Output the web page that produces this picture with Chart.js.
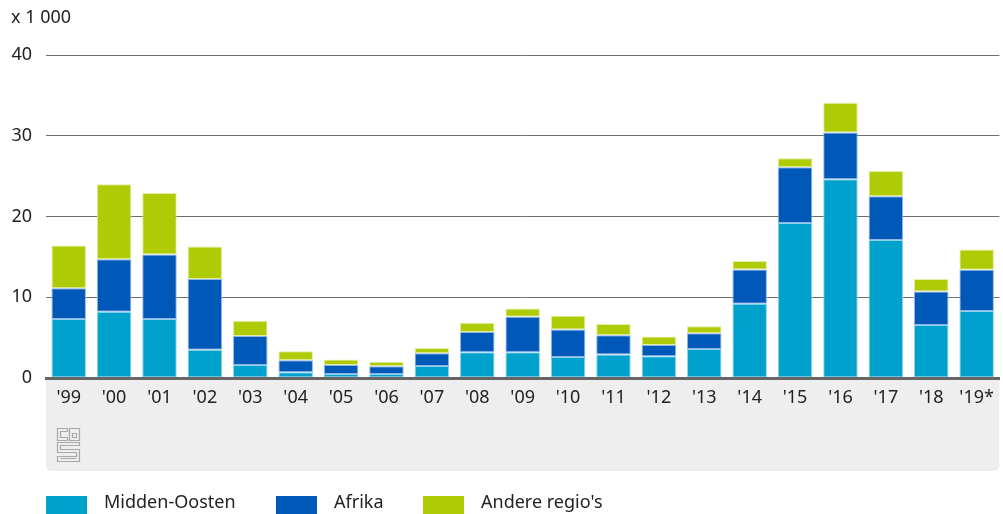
<!DOCTYPE html>
<html>
<head>
<meta charset="utf-8">
<script src="https://cdn.jsdelivr.net/npm/chart.js@4/dist/chart.umd.min.js"></script>
<style>
    html, body { margin: 0; padding: 0; background: #fff; }
    #wrap { position: relative; width: 1003px; height: 514px; }
</style>
</head>
<body>
<div id="wrap"><canvas id="asielChart" width="1003" height="514"></canvas></div>
<script>
// Data (x 1 000)
const years = ["'99", "'00", "'01", "'02", "'03", "'04", "'05", "'06", "'07", "'08", "'09",
    "'10", "'11", "'12", "'13", "'14", "'15", "'16", "'17", "'18", "'19*"];
const middenOosten = [7.3, 8.2, 7.3, 3.5, 1.6, 0.7, 0.5, 0.5, 1.5, 3.2, 3.2,
    2.6, 2.9, 2.7, 3.6, 9.2, 19.2, 24.6, 17.1, 6.55, 8.3];
const afrika = [3.8, 6.5, 8.0, 8.75, 3.6, 1.5, 1.1, 0.95, 1.55, 2.5, 4.4,
    3.4, 2.4, 1.4, 1.95, 4.25, 6.9, 5.8, 5.4, 4.15, 5.1];
const andereRegios = [5.3, 9.3, 7.6, 4.05, 1.9, 1.1, 0.7, 0.55, 0.65, 1.15, 1.0,
    1.7, 1.4, 1.05, 0.85, 1.05, 1.1, 3.7, 3.15, 1.55, 2.5];
const yTicks = [0, 10, 20, 30, 40];

const FONT = '"Noto Sans", sans-serif';
const TEXT_COLOR = '#222';

Chart.defaults.font.family = FONT;
Chart.defaults.font.size = 18;
Chart.defaults.color = TEXT_COLOR;

const series = [
    { label: 'Midden-Oosten', data: middenOosten, color: '#00a1cd', edge: '#8fd3ea' },
    { label: 'Afrika', data: afrika, color: '#0058b8', edge: '#8fb4e3' },
    { label: "Andere regio's", data: andereRegios, color: '#afcb05', edge: '#e3eea0' }
];

// gray panel under the x axis, logo, unit label and legend
const decorPlugin = {
    id: 'decor',
    beforeDraw(chart) {
        const { ctx, chartArea } = chart;
        const x0 = chartArea.left, x1 = chartArea.right;
        const y0 = chartArea.bottom, y1 = 471, r = 6;
        ctx.save();
        ctx.fillStyle = '#eeeeee';
        ctx.beginPath();
        ctx.moveTo(x0, y0);
        ctx.lineTo(x1, y0);
        ctx.lineTo(x1, y1 - r);
        ctx.quadraticCurveTo(x1, y1, x1 - r, y1);
        ctx.lineTo(x0 + r, y1);
        ctx.quadraticCurveTo(x0, y1, x0, y1 - r);
        ctx.closePath();
        ctx.fill();
        ctx.restore();
    },
    afterDraw(chart) {
        const { ctx } = chart;
        ctx.save();
        // unit label
        ctx.fillStyle = TEXT_COLOR;
        ctx.font = '18px ' + FONT;
        ctx.textBaseline = 'middle';
        ctx.textAlign = 'left';
        ctx.fillText('x 1 000', 11, 18);

        // cbs logo (rough)
        ctx.strokeStyle = '#a8a8a8';
        ctx.lineWidth = 1.2;
        const lx = 57, ly = 428;
        ctx.beginPath();
        // c
        ctx.moveTo(lx + 10.5, ly + 0.5);
        ctx.lineTo(lx + 0.5, ly + 0.5);
        ctx.lineTo(lx + 0.5, ly + 12.5);
        ctx.lineTo(lx + 10.5, ly + 12.5);
        ctx.lineTo(lx + 10.5, ly + 9.5);
        ctx.lineTo(lx + 3.5, ly + 9.5);
        ctx.lineTo(lx + 3.5, ly + 3.5);
        ctx.lineTo(lx + 10.5, ly + 3.5);
        ctx.closePath();
        // b
        ctx.rect(lx + 12.5, ly + 0.5, 10, 12);
        ctx.rect(lx + 15.5, ly + 5.5, 4, 4);
        // s
        ctx.moveTo(lx + 22.5, ly + 14.5);
        ctx.lineTo(lx + 0.5, ly + 14.5);
        ctx.lineTo(lx + 0.5, ly + 24.5);
        ctx.lineTo(lx + 19.5, ly + 24.5);
        ctx.lineTo(lx + 19.5, ly + 28.5);
        ctx.lineTo(lx + 0.5, ly + 28.5);
        ctx.lineTo(lx + 0.5, ly + 33.5);
        ctx.lineTo(lx + 22.5, ly + 33.5);
        ctx.lineTo(lx + 22.5, ly + 21.5);
        ctx.lineTo(lx + 3.5, ly + 21.5);
        ctx.lineTo(lx + 3.5, ly + 17.5);
        ctx.lineTo(lx + 22.5, ly + 17.5);
        ctx.closePath();
        ctx.moveTo(lx + 3.5, ly + 30.5);
        ctx.lineTo(lx + 19.5, ly + 30.5);
        ctx.stroke();

        // legend
        ctx.font = '18px ' + FONT;
        const legendX = [46, 276, 423];
        series.forEach((s, i) => {
            ctx.fillStyle = s.color;
            ctx.fillRect(legendX[i], 496, 41, 18);
            ctx.fillStyle = TEXT_COLOR;
            ctx.fillText(s.label, legendX[i] + 58, 503);
        });
        ctx.restore();
    }
};

new Chart(document.getElementById('asielChart'), {
    type: 'bar',
    data: {
        labels: years,
        datasets: series.map(s => ({
            label: s.label,
            data: s.data,
            backgroundColor: s.color,
            borderColor: s.edge,
            borderWidth: 1,
            borderSkipped: false,
            barPercentage: 0.76,
            categoryPercentage: 1.0
        }))
    },
    options: {
        responsive: false,
        animation: false,
        events: [],
        layout: { padding: { top: 55, right: 3, left: 0, bottom: 0 } },
        plugins: {
            legend: { display: false },
            tooltip: { enabled: false }
        },
        scales: {
            x: {
                stacked: true,
                afterFit: scale => { scale.height = 136; },
                grid: { display: false, drawTicks: false },
                border: { display: true, color: '#666', width: 3, z: 1 },
                ticks: { padding: 9, color: TEXT_COLOR, font: { size: 18 }, maxRotation: 0, autoSkip: false }
            },
            y: {
                stacked: true,
                min: 0,
                max: 40,
                afterFit: scale => { scale.width = 46; },
                afterBuildTicks: scale => { scale.ticks = yTicks.map(v => ({ value: v })); },
                grid: { color: '#6e6e6e', lineWidth: 1, drawTicks: false },
                border: { display: false },
                ticks: { padding: 14, color: TEXT_COLOR, font: { size: 18 } }
            }
        }
    },
    plugins: [decorPlugin]
});
</script>
</body>
</html>
